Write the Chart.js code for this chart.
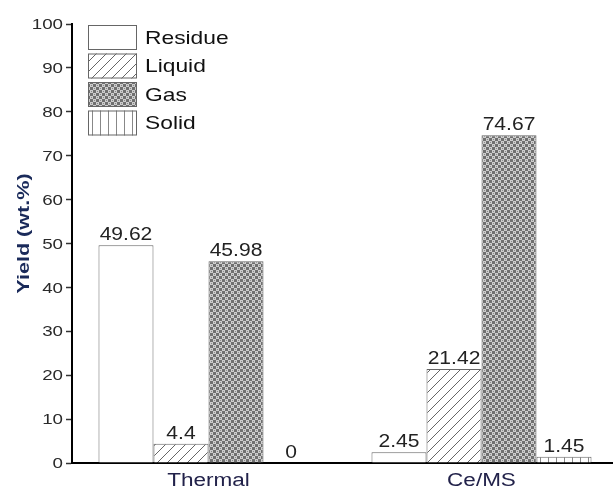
<!DOCTYPE html>
<html>
<head>
<meta charset="utf-8">
<script src="https://cdn.jsdelivr.net/npm/chart.js@4/dist/chart.umd.min.js"></script>
<style>
  html, body { margin: 0; padding: 0; background: #fff; overflow: hidden; }
  #wrap { position: relative; width: 620px; height: 494px; }
</style>
</head>
<body>
<div id="wrap"><canvas id="c"></canvas></div>
<script>
// Product yields (wt.%) for each process
const categories = ['Thermal', 'Ce/MS'];
const seriesNames = ['Residue', 'Liquid', 'Gas', 'Solid'];
const residue = [49.62, 2.45];
const liquid = [4.4, 21.42];
const gas = [45.98, 74.67];
const solid = [0, 1.45];
const yTicks = [0, 10, 20, 30, 40, 50, 60, 70, 80, 90, 100];
const yTitle = 'Yield (wt.%)';

const FONT = '"Liberation Sans", Arial, sans-serif';

// Text drawn with a slightly widened face
function wideText(ctx, text, x, y, opts) {
  const sx = opts.stretch || 1;
  ctx.save();
  ctx.font = opts.font;
  ctx.fillStyle = opts.color;
  ctx.textBaseline = opts.baseline || 'middle';
  ctx.textAlign = 'left';
  const w = ctx.measureText(text).width * sx;
  let left = x;
  if (opts.align === 'center') left = x - w / 2;
  else if (opts.align === 'right') left = x - w;
  ctx.translate(left, y);
  ctx.scale(sx, 1);
  ctx.fillText(text, 0, 0);
  ctx.restore();
}

function makeTile(w, h, draw) {
  const c = document.createElement('canvas');
  c.width = w; c.height = h;
  const g = c.getContext('2d');
  draw(g, w, h);
  return g.createPattern(c, 'repeat');
}

// Fill patterns for the four product fractions
const fillWhite = '#ffffff';
const fillHatch = makeTile(10, 10, (g, w, h) => {
  g.fillStyle = '#fff'; g.fillRect(0, 0, w, h);
  g.strokeStyle = '#666'; g.lineWidth = 1;
  g.beginPath();
  g.moveTo(-1, h + 1); g.lineTo(w + 1, -1);
  g.moveTo(-1, 1); g.lineTo(1, -1);
  g.moveTo(w - 1, h + 1); g.lineTo(w + 1, h - 1);
  g.stroke();
});
const fillCheck = makeTile(6, 6, (g, w, h) => {
  g.fillStyle = '#707070'; g.fillRect(0, 0, w, h);
  g.fillStyle = '#cdcdcd';
  g.fillRect(0, 0, 3, 3);
  g.fillRect(3, 3, 3, 3);
  g.fillStyle = '#8a8a8a';
  g.fillRect(1, 1, 1, 1);
  g.fillRect(4, 4, 1, 1);
});
const fillVert = makeTile(8, 8, (g, w, h) => {
  g.fillStyle = '#fff'; g.fillRect(0, 0, w, h);
  g.fillStyle = '#888';
  g.fillRect(4, 0, 1, h);
});

const fills = [fillWhite, fillHatch, fillCheck, fillVert];
const values = [residue, liquid, gas, solid];

// Value labels above every bar
const valueLabels = {
  id: 'valueLabels',
  afterDatasetsDraw(chart) {
    const ctx = chart.ctx;
    chart.data.datasets.forEach((ds, i) => {
      chart.getDatasetMeta(i).data.forEach((bar, j) => {
        wideText(ctx, String(ds.data[j]), bar.x, bar.y - 5, {
          font: '18px ' + FONT, color: '#222', align: 'center',
          baseline: 'alphabetic', stretch: 1.17
        });
      });
    });
  }
};

// Axis labels and title
const axisText = {
  id: 'axisText',
  afterDraw(chart) {
    const ctx = chart.ctx;
    const y = chart.scales.y, x = chart.scales.x;
    yTicks.forEach(v => {
      wideText(ctx, String(v), y.right - 9, y.getPixelForValue(v) + 1, {
        font: '15px ' + FONT, color: '#2a2a2a', align: 'right', stretch: 1.25
      });
    });
    categories.forEach((c, i) => {
      wideText(ctx, c, x.getPixelForTick(i), x.top + 18, {
        font: '18px ' + FONT, color: '#22224a', align: 'center', stretch: 1.25
      });
    });
    // rotated title beside the value axis
    const sx = 1.27;
    ctx.save();
    ctx.font = 'bold 17px ' + FONT;
    const tw = ctx.measureText(yTitle).width * sx;
    const cy = (chart.chartArea.top + chart.chartArea.bottom) / 2 - 10;
    ctx.translate(29, cy + tw / 2);
    ctx.rotate(-Math.PI / 2);
    ctx.scale(sx, 1);
    ctx.fillStyle = '#1a2a5a';
    ctx.textBaseline = 'alphabetic';
    ctx.textAlign = 'left';
    ctx.fillText(yTitle, 0, 0);
    ctx.restore();
  }
};

// Boxed legend in the upper-left corner of the plot
const boxLegend = {
  id: 'boxLegend',
  afterDraw(chart) {
    const ctx = chart.ctx;
    const a = chart.chartArea;
    const x0 = a.left + 16, y0 = 25, bw = 49, bh = 25, step = 28.5;
    chart.data.datasets.forEach((ds, i) => {
      const y = y0 + i * step;
      ctx.save();
      ctx.fillStyle = ds.backgroundColor;
      ctx.fillRect(x0, y, bw, bh);
      ctx.strokeStyle = '#666';
      ctx.lineWidth = 1;
      ctx.strokeRect(x0 + 0.5, y + 0.5, bw - 1, bh - 1);
      ctx.restore();
      wideText(ctx, ds.label, x0 + bw + 8, y + bh / 2 + 1, {
        font: '19px ' + FONT, color: '#111', align: 'left', stretch: 1.2
      });
    });
  }
};

new Chart(document.getElementById('c'), {
  type: 'bar',
  data: {
    labels: categories,
    datasets: seriesNames.map((name, i) => ({
      label: name,
      data: values[i],
      backgroundColor: fills[i],
      borderColor: '#666',
      borderWidth: 1,
      borderSkipped: 'bottom',
      categoryPercentage: 0.806,
      barPercentage: 1
    }))
  },
  options: {
    responsive: true,
    maintainAspectRatio: false,
    animation: false,
    layout: { padding: { top: 24, right: 2, left: 0, bottom: 0 } },
    plugins: {
      legend: { display: false },
      tooltip: { enabled: false }
    },
    scales: {
      x: {
        grid: { display: false },
        border: { display: true, color: '#000', width: 2 },
        ticks: { color: 'rgba(0,0,0,0)', font: { family: FONT, size: 16 } },
        afterFit(s) { s.height = 31; }
      },
      y: {
        min: 0,
        max: 100,
        afterBuildTicks(s) { s.ticks = yTicks.map(v => ({ value: v })); },
        grid: {
          drawOnChartArea: false,
          drawTicks: true,
          tickLength: 6,
          tickWidth: 1.5,
          tickColor: '#333'
        },
        border: { display: true, color: '#000', width: 2 },
        ticks: { color: 'rgba(0,0,0,0)', font: { family: FONT, size: 14 } },
        afterFit(s) { s.width = 72; }
      }
    }
  },
  plugins: [valueLabels, axisText, boxLegend]
});
</script>
</body>
</html>
